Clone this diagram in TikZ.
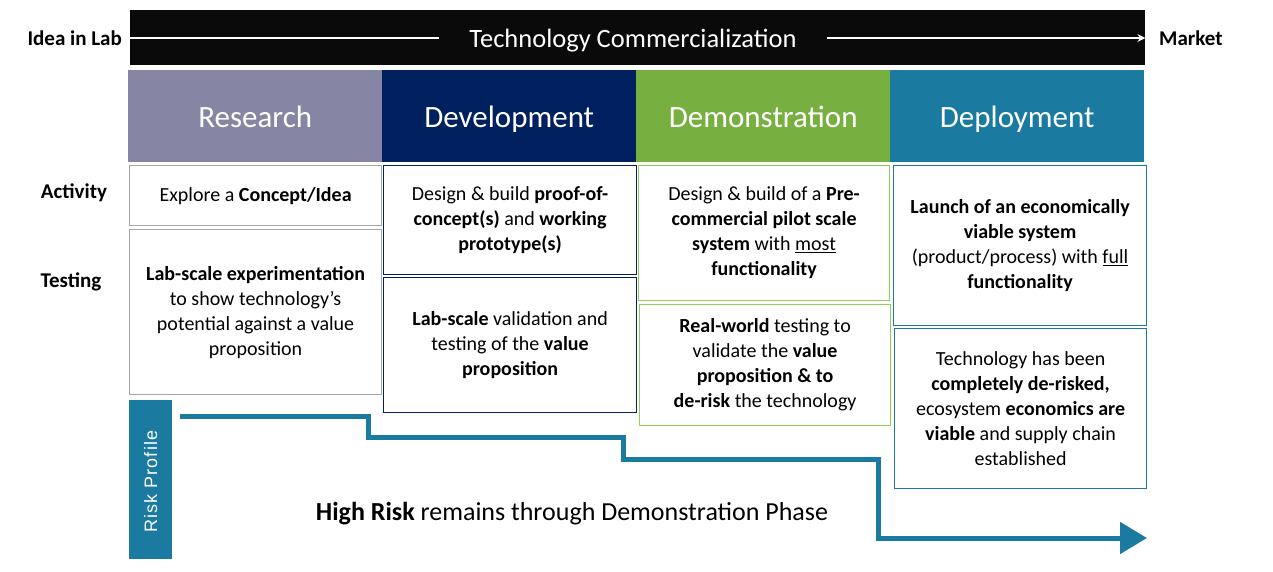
\documentclass[tikz,border=0pt]{standalone}
\usepackage{fontspec}
\setmainfont{Carlito}
\newfontfamily\riskfont{Liberation Sans}[LetterSpace=6]
\usetikzlibrary{arrows.meta}
\definecolor{cresearch}{RGB}{134,134,164}
\definecolor{cdev}{RGB}{0,32,96}
\definecolor{cdemo}{RGB}{119,176,65}
\definecolor{cdeploy}{RGB}{26,122,160}
\definecolor{cgreenline}{RGB}{146,208,80}
\definecolor{cgrayline}{RGB}{166,166,166}
\definecolor{cbar}{RGB}{10,10,10}
\newcommand{\bodytxt}{\fontsize{20}{25}\selectfont}
\newcommand{\headtxt}{\fontsize{31}{36}\selectfont}
\newcommand{\sidetxt}{\fontsize{21}{24}\selectfont\bfseries}
\begin{document}
\begin{tikzpicture}[x=1pt,y=-1pt,
  header/.style={anchor=north west, inner sep=0, minimum width=254, minimum height=92, text=white, font=\headtxt, text height=22pt, text depth=0pt},
  cellbox/.style={anchor=north west, draw, line width=1.2pt, fill=white, inner sep=0, align=center, font=\bodytxt},
  sidelabel/.style={font=\sidetxt, inner sep=0},
  riskline/.style={draw=cdeploy, line width=5pt, line join=miter, -{Triangle[length=27pt,width=31pt]}}
]
\useasboundingbox (0,0) rectangle (1273,571);
% top bar
\node[anchor=north west, fill=cbar, minimum width=1015, minimum height=55, inner sep=0] (bar) at (130,10) {};
\node[text=white, font=\fontsize{26.5}{30}\selectfont, inner xsep=30, inner ysep=0, text height=18pt, text depth=0pt] (title) at (633,38) {Technology Commercialization};
\draw[white, line width=2.5pt] (bar.west |- title) -- (title.west);
\draw[white, line width=2.5pt, -{Stealth[length=8pt,width=8pt]}] (title.east) -- (bar.east |- title);
\node[sidelabel, anchor=east] (idea) at (122,38) {Idea in Lab};
\node[sidelabel, anchor=west] (market) at (1159,38) {Market};
% headers
\node[header, fill=cresearch] (hres) at (128,70) {Research};
\node[header, fill=cdev] (hdev) at (382,70) {Development};
\node[header, fill=cdemo] (hdemo) at (636,70) {Demonstration};
\node[header, fill=cdeploy] (hdep) at (890,70) {Deployment};
% side labels
\node[sidelabel] (act) at (74,193) {Activity};
\node[sidelabel] (test) at (71,282) {Testing};
% research column
\node[cellbox, draw=cgrayline, minimum width=252, minimum height=60] (r1) at (129,165)
  {Explore a \textbf{Concept/Idea}};
\node[cellbox, draw=cgrayline, minimum width=252, minimum height=165] (r2) at (129,229)
  {\textbf{Lab-scale experimentation}\\to show technology’s\\potential against a value\\proposition};
% development column
\node[cellbox, draw=cdev, minimum width=253, minimum height=109] (d1) at (383,165)
  {Design \& build \textbf{proof-of-}\\\textbf{concept(s)} and \textbf{working}\\\textbf{prototype(s)}};
\node[cellbox, draw=cdev, minimum width=253, minimum height=135] (d2) at (383,277)
  {\textbf{Lab-scale} validation and\\testing of the \textbf{value}\\\textbf{proposition}};
% demonstration column
\node[cellbox, draw=cgreenline, minimum width=251, minimum height=135] (m1) at (638,165)
  {Design \& build of a \textbf{Pre-}\\\textbf{commercial pilot scale}\\\textbf{system} with \underline{most}\\\textbf{functionality}};
\node[cellbox, draw=cgreenline, minimum width=251, minimum height=121] (m2) at (639,304)
  {\textbf{Real-world} testing to\\validate the \textbf{value}\\\textbf{proposition \& to}\\\textbf{de-risk} the technology};
% deployment column
\node[cellbox, draw=cdeploy, minimum width=253, minimum height=160] (p1) at (893,165)
  {\textbf{Launch of an economically}\\\textbf{viable system}\\(product/process) with \underline{full}\\\textbf{functionality}};
\node[cellbox, draw=cdeploy, minimum width=252, minimum height=160] (p2) at (894,328)
  {Technology has been\\\textbf{completely de-risked,}\\ecosystem \textbf{economics are}\\\textbf{viable} and supply chain\\established};
% risk profile
\node[anchor=north west, fill=cdeploy, minimum width=43, minimum height=159, inner sep=0] (risk) at (129,400) {};
\node[rotate=90, text=white, font=\riskfont\fontsize{18}{20}\selectfont] (risktxt) at ([yshift=-2pt]risk.center) {Risk Profile};
\coordinate (rs) at (180,416);
\coordinate (re) at (1147,538);
\draw[riskline] (rs) -- (368,416) -- (368,437) -- (623,437) -- (623,459) -- (878,459) -- (878,538) -- (re);
\node[font=\fontsize{26}{30}\selectfont] (hr) at (572,514) {\textbf{High Risk} remains through Demonstration Phase};
\end{tikzpicture}
\end{document}
